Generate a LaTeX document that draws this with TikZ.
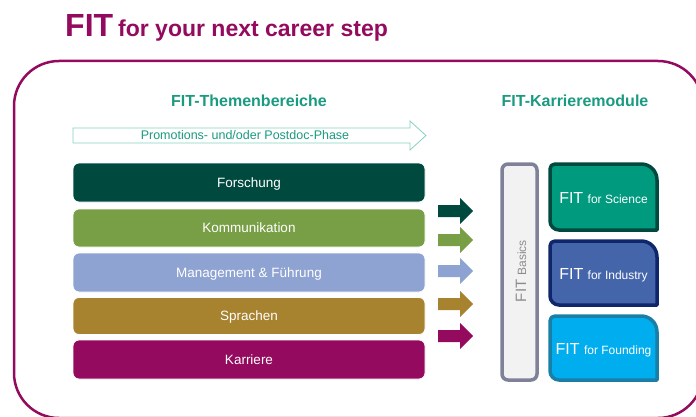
\documentclass[tikz,border=0pt]{standalone}
\usepackage{fontspec}
\setmainfont{Liberation Sans}
\definecolor{fitpurple}{HTML}{930A5E}
\definecolor{fitteal}{HTML}{1A9A80}
\definecolor{phaseline}{HTML}{86D0C0}
\definecolor{forsch}{HTML}{00493E}
\definecolor{komm}{HTML}{789F46}
\definecolor{mgmt}{HTML}{8EA3D1}
\definecolor{sprach}{HTML}{A7822F}
\definecolor{karr}{HTML}{930A5E}
\definecolor{scifill}{HTML}{009A7E}
\definecolor{sciborder}{HTML}{00493E}
\definecolor{indfill}{HTML}{4565AB}
\definecolor{indborder}{HTML}{10266A}
\definecolor{foundfill}{HTML}{00AEEF}
\definecolor{foundborder}{HTML}{1A7FA6}
\definecolor{basicsborder}{HTML}{7F8199}
\definecolor{basicsfill}{HTML}{F2F2F2}
\definecolor{basicstext}{HTML}{8C8C8C}
\newcommand\blkarrow[2]{\fill[#2] (438,#1-6) -- (460,#1-6) -- (460,#1-13) -- (473,#1) -- (460,#1+13) -- (460,#1+6) -- (438,#1+6) -- cycle;}
% module box: x1 y1 x2 y2 fill border
\newcommand\modbox[6]{\draw[line width=3.5pt, draw=#6, fill=#5, line join=round]
  (#1+5,#2) -- (#3-16,#2) .. controls (#3-7,#2) and (#3,#2+7) .. (#3,#2+16) -- (#3,#4) -- (#1+9,#4)
  .. controls (#1+4,#4) and (#1,#4-4) .. (#1,#4-9) -- (#1,#2+5) .. controls (#1,#2+2) and (#1+2,#2) .. (#1+5,#2) -- cycle;}
\begin{document}
\begin{tikzpicture}[x=1pt,y=-1pt,
  heading/.style={font=\fontsize{16}{16}\selectfont\bfseries, text=fitteal, inner sep=0pt},
  bar/.style={rounded corners=6pt, draw=white, line width=0.8pt, minimum width=352pt, text=white, font=\fontsize{13.5}{13.5}\selectfont, inner sep=0pt, text height=9.7pt, text depth=0pt},
  module/.style={minimum width=107pt, text=white, inner sep=0pt, text height=11.5pt, text depth=0pt}]
\useasboundingbox (0,0) rectangle (696,417);
\clip (0,0) rectangle (696,417);
% outer frame
\draw[fitpurple, line width=2.5pt, rounded corners=45pt] (14,61) rectangle (703,418);
% title
\node[anchor=base west, inner sep=0pt, text=fitpurple, font=\fontsize{32}{32}\selectfont\bfseries] (titfit) at (65,37) {FIT};
\node[anchor=base west, inner sep=0pt, text=fitpurple, font=\fontsize{23}{23}\selectfont\bfseries] (titrest) at (118,37) {for your next career step};
% headings
\node[heading] (h1) at (249,101) {FIT-Themenbereiche};
\node[heading] (h2) at (575,101) {FIT-Karrieremodule};
% phase arrow
\draw[phaseline, line width=0.8pt, fill=white] (73,128) -- (410,128) -- (410,121) -- (426,135.5) -- (410,150) -- (410,143) -- (73,143) -- cycle;
\node[inner sep=0pt, text=fitteal, font=\fontsize{12.5}{12.5}\selectfont] (phase) at (245,135.5) {Promotions- und/oder Postdoc-Phase};
% bars
\node[bar, fill=forsch, minimum height=39pt] (b1) at (249,182.5) {Forschung};
\node[bar, fill=komm, minimum height=38pt] (b2) at (249,228) {Kommunikation};
\node[bar, fill=mgmt, minimum height=39pt] (b3) at (249,272.5) {Management \& Führung};
\node[bar, fill=sprach, minimum height=37pt] (b4) at (249,316) {Sprachen};
\node[bar, fill=karr, minimum height=39pt] (b5) at (249,359.5) {Karriere};
% block arrows
\blkarrow{211}{forsch}
\blkarrow{240}{komm}
\blkarrow{271}{mgmt}
\blkarrow{304}{sprach}
\blkarrow{336}{karr}
% FIT Basics
\node[draw=basicsborder, fill=basicsfill, line width=3.5pt, rounded corners=6pt, minimum width=35pt, minimum height=216pt, inner sep=0pt] (basics) at (519.5,272) {};
\node[rotate=90, inner sep=0pt, text=basicstext] (basicstxt) at (521,271) {\fontsize{15}{15}\selectfont FIT\ \fontsize{12}{12}\selectfont Basics};
% modules
\modbox{550}{164}{657}{230}{scifill}{sciborder}
\modbox{550}{241}{657}{305}{indfill}{indborder}
\modbox{550}{316}{657}{380}{foundfill}{foundborder}
\node[module] (sci) at (603.5,198) {\fontsize{16}{16}\selectfont FIT \fontsize{12}{12}\selectfont for Science};
\node[module] (ind) at (603.5,273.5) {\fontsize{16}{16}\selectfont FIT \fontsize{12}{12}\selectfont for Industry};
\node[module] (found) at (603.5,348.5) {\fontsize{16}{16}\selectfont FIT \fontsize{12}{12}\selectfont for Founding};
\end{tikzpicture}
\end{document}
